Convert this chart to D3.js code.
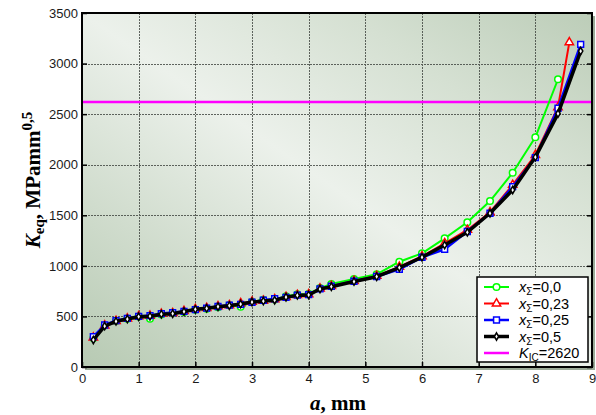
<!DOCTYPE html>
<html>
<head>
<meta charset="utf-8">
<script src="https://cdn.jsdelivr.net/npm/d3@7/dist/d3.min.js"></script>
<style>
  html, body { margin: 0; padding: 0; background: #ffffff; }
  svg { display: block; }
</style>
</head>
<body>
<svg id="chart" width="596" height="415"></svg>
<script>
// Crack length a, mm (shared grid up to 8.4 mm)
const aGrid = [0.2, 0.4, 0.6, 0.8, 1.0, 1.2, 1.4, 1.6, 1.8, 2.0, 2.2, 2.4, 2.6, 2.8, 3.0,
  3.2, 3.4, 3.6, 3.8, 4.0, 4.2, 4.4, 4.8, 5.2, 5.6, 6.0, 6.4, 6.8, 7.2, 7.6, 8.0, 8.4];

// Equivalent stress intensity K_eq, MPa·mm^0.5, per x_Σ value
const kX00 = [285, 410, 455, 478, 500, 478, 520, 535, 545, 565, 575, 590, 612, 595, 645,
  665, 668, 700, 720, 725, 780, 820, 870, 916, 1041, 1124, 1272, 1431, 1641, 1921, 2271, 2845];
const kX023 = [290, 410, 455, 478, 500, 505, 525, 532, 552, 572, 583, 600, 610, 630, 645,
  655, 670, 692, 712, 718, 775, 800, 850, 900, 990, 1095, 1223, 1355, 1530, 1800, 2096, 2568, 3210];
const kX025 = [300, 415, 458, 480, 500, 508, 528, 538, 550, 568, 582, 598, 612, 620, 640,
  660, 675, 688, 710, 715, 772, 798, 848, 895, 966, 1085, 1164, 1340, 1520, 1783, 2070, 2558, 3190];
const kX05 = [267, 405, 452, 474, 497, 502, 522, 527, 548, 570, 580, 596, 606, 622, 642,
  652, 660, 690, 708, 712, 771, 794, 845, 893, 982, 1085, 1206, 1332, 1520, 1750, 2075, 2505, 3124];

// Final crack lengths reached by the longer runs
const aLastX023 = 8.6;
const aLastX025 = 8.8;
const aLastX05 = 8.8;

const kIC = 2620;

const xTicks = [0, 1, 2, 3, 4, 5, 6, 7, 8, 9];
const yTicks = [0, 500, 1000, 1500, 2000, 2500, 3000, 3500];

const legendLabels = [
  { sub: "Σ", rest: "=0,0" },
  { sub: "Σ", rest: "=0,23" },
  { sub: "Σ", rest: "=0,25" },
  { sub: "Σ", rest: "=0,5" }
];

const svg = d3.select("#chart");
const L = 82, R = 592, T = 13, B = 367;

const x = d3.scaleLinear().domain([0, 9]).range([L, R]);
const y = d3.scaleLinear().domain([0, 3500]).range([B, T]);

const defs = svg.append("defs");
const grad = defs.append("linearGradient")
  .attr("id", "bg").attr("x1", 0).attr("y1", 1).attr("x2", 1).attr("y2", 0);
grad.append("stop").attr("offset", "0%").attr("stop-color", "#b7cab3");
grad.append("stop").attr("offset", "24%").attr("stop-color", "#d0dccd");
grad.append("stop").attr("offset", "50%").attr("stop-color", "#ecf1eb");
grad.append("stop").attr("offset", "76%").attr("stop-color", "#d5e0d2");
grad.append("stop").attr("offset", "100%").attr("stop-color", "#bccdb8");

// drop shadow of the plot frame
svg.append("rect")
  .attr("x", L + 3).attr("y", T + 3)
  .attr("width", R - L).attr("height", B - T)
  .attr("fill", "#9cab98");

svg.append("rect")
  .attr("x", L).attr("y", T)
  .attr("width", R - L).attr("height", B - T)
  .attr("fill", "url(#bg)");

// grid
const grid = svg.append("g").attr("stroke", "#3c413c").attr("stroke-width", 1)
  .attr("stroke-dasharray", "2,1").attr("opacity", 0.8);
grid.selectAll("line.v").data(xTicks.slice(1, -1)).join("line")
  .attr("x1", d => Math.round(x(d)) + 0.5).attr("x2", d => Math.round(x(d)) + 0.5)
  .attr("y1", T).attr("y2", B);
grid.selectAll("line.h").data(yTicks.slice(1, -1)).join("line")
  .attr("y1", d => Math.round(y(d)) + 0.5).attr("y2", d => Math.round(y(d)) + 0.5)
  .attr("x1", L).attr("x2", R);

// axes with inward ticks
const axisFont = "Liberation Sans, Arial, sans-serif";
const gx = svg.append("g").attr("transform", `translate(0,${B})`)
  .call(d3.axisBottom(x).tickValues(xTicks).tickFormat(d3.format("d"))
    .tickSizeInner(-5).tickSizeOuter(0).tickPadding(7));
const gy = svg.append("g").attr("transform", `translate(${L},0)`)
  .call(d3.axisLeft(y).tickValues(yTicks).tickFormat(d3.format("d"))
    .tickSizeInner(-5).tickSizeOuter(0).tickPadding(4));
const gr = svg.append("g").attr("transform", `translate(${R},0)`)
  .call(d3.axisRight(y).tickValues(yTicks).tickFormat("")
    .tickSizeInner(-5).tickSizeOuter(0));
[gx, gy, gr].forEach(g => {
  g.select(".domain").remove();
  g.selectAll(".tick line").attr("stroke", "#000").attr("stroke-width", 1.5);
  g.selectAll(".tick text").attr("font-family", axisFont).attr("font-size", 13)
    .attr("fill", "#1a1a1a");
});

// K_IC level
svg.append("line")
  .attr("x1", L).attr("x2", R)
  .attr("y1", y(kIC)).attr("y2", y(kIC))
  .attr("stroke", "#ff00ff").attr("stroke-width", 2.5);

const series = [
  { a: aGrid, k: kX00, color: "#00ff00", width: 2, sym: d3.symbolCircle, size: 34 },
  { a: aGrid.concat([aLastX023]), k: kX023, color: "#ff0000", width: 2, sym: d3.symbolTriangle, size: 30 },
  { a: aGrid.concat([aLastX025]), k: kX025, color: "#0000ff", width: 2.5, sym: d3.symbolSquare, size: 34 },
  { a: aGrid.concat([aLastX05]), k: kX05, color: "#000000", width: 3.5, sym: d3.symbolDiamond, size: 16 }
];

const line = d3.line().x(d => x(d[0])).y(d => y(d[1]));

series.forEach(s => {
  const pts = s.a.map((a, i) => [a, s.k[i]]);
  svg.append("path").datum(pts)
    .attr("d", line).attr("fill", "none")
    .attr("stroke", s.color).attr("stroke-width", s.width)
    .attr("stroke-linejoin", "round");
  svg.append("g").selectAll("path").data(pts).join("path")
    .attr("transform", d => `translate(${x(d[0])},${y(d[1])})`)
    .attr("d", d3.symbol().type(s.sym).size(s.size))
    .attr("fill", "#ffffff").attr("stroke", s.color).attr("stroke-width", 1.5);
});

// frame
svg.append("rect")
  .attr("x", L).attr("y", T)
  .attr("width", R - L).attr("height", B - T)
  .attr("fill", "none").attr("stroke", "#000").attr("stroke-width", 2);

// legend
const lg = svg.append("g");
lg.append("rect").attr("x", 477).attr("y", 277).attr("width", 111).attr("height", 85)
  .attr("fill", "#ffffff").attr("stroke", "#000").attr("stroke-width", 1.5);
const rowY = [287, 303.5, 320, 336.5, 353];
series.forEach((s, i) => {
  const yy = rowY[i];
  lg.append("line").attr("x1", 484).attr("x2", 509).attr("y1", yy).attr("y2", yy)
    .attr("stroke", s.color).attr("stroke-width", s.width);
  lg.append("path").attr("transform", `translate(496.5,${yy})`)
    .attr("d", d3.symbol().type(s.sym).size(s.size))
    .attr("fill", "#fff").attr("stroke", s.color).attr("stroke-width", 1.5);
  const t = lg.append("text").attr("x", 519).attr("y", yy + 5)
    .attr("font-family", axisFont).attr("font-size", 14.5).attr("fill", "#000");
  t.append("tspan").attr("font-style", "italic").text("x");
  t.append("tspan").attr("font-size", 10).attr("dy", 3).text(legendLabels[i].sub);
  t.append("tspan").attr("dy", -3).text(legendLabels[i].rest);
});
lg.append("line").attr("x1", 484).attr("x2", 509).attr("y1", rowY[4]).attr("y2", rowY[4])
  .attr("stroke", "#ff00ff").attr("stroke-width", 2.5);
const tk = lg.append("text").attr("x", 519).attr("y", rowY[4] + 5)
  .attr("font-family", axisFont).attr("font-size", 14.5).attr("fill", "#000");
tk.append("tspan").attr("font-style", "italic").text("K");
tk.append("tspan").attr("font-size", 10).attr("dy", 3).text("IC");
tk.append("tspan").attr("dy", -3).text("=" + kIC);

// axis titles
const serif = "Liberation Serif, Times New Roman, serif";
const xt = svg.append("text").attr("x", 338).attr("y", 410)
  .attr("text-anchor", "middle").attr("font-family", serif)
  .attr("font-weight", "bold").attr("font-size", 21).attr("fill", "#000");
xt.append("tspan").attr("font-style", "italic").text("a");
xt.append("tspan").attr("font-style", "normal").text(", mm");

const yt = svg.append("text")
  .attr("transform", "translate(40,180) rotate(-90)")
  .attr("text-anchor", "middle").attr("font-family", serif)
  .attr("font-weight", "bold").attr("font-size", 21).attr("fill", "#000");
yt.append("tspan").attr("font-style", "italic").text("K");
yt.append("tspan").attr("font-style", "normal").attr("font-size", 15).attr("dy", 4).text("eq");
yt.append("tspan").attr("font-style", "normal").attr("dy", -4).text(", MPamm");
yt.append("tspan").attr("font-style", "normal").attr("font-size", 15).attr("dy", -8).text("0,5");
</script>
</body>
</html>
